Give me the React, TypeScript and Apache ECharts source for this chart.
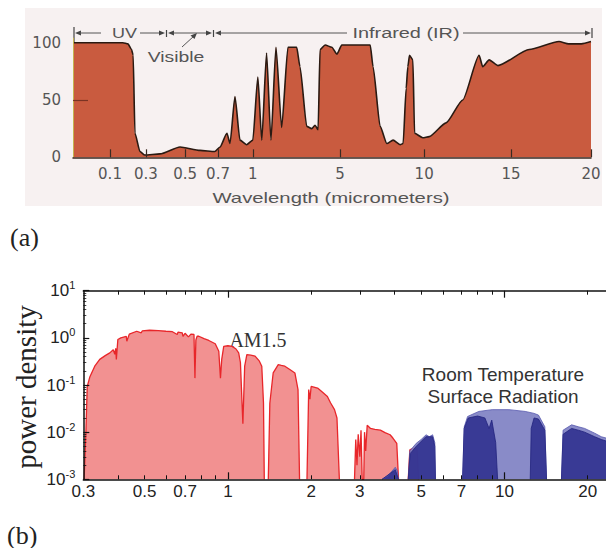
import React, { useEffect, useRef } from 'react';
import * as echarts from 'echarts';

// ---------- Panel (a): atmospheric transmission (%) vs wavelength (µm) ----------
const atmosphere: [number, number][] = [
  [0, 100], [0.172, 100], [0.2, 99], [0.22, 94], [0.229, 89], [0.239, 21], [0.267, 5], [0.294, 2],
  [0.372, 3], [0.474, 9], [0.591, 6], [0.68, 5], [0.717, 9], [0.777, 21], [0.803, 12], [0.846, 53],
  [0.889, 15], [0.946, 11], [1.0, 15], [1.23, 70], [1.41, 15], [1.63, 91], [1.83, 15], [2.06, 96],
  [2.32, 26], [2.61, 96], [3.01, 96], [3.16, 79], [3.47, 27], [3.7, 25], [3.85, 28], [3.99, 24],
  [4.08, 94], [4.31, 98], [4.62, 96], [4.85, 90], [5.1, 98], [6.79, 98], [6.96, 79], [7.38, 27],
  [7.78, 12], [8.15, 15], [8.57, 11], [8.75, 12], [8.93, 60], [9.03, 79], [9.13, 89], [9.33, 85],
  [9.43, 21], [9.92, 17], [10.29, 18], [11.26, 30], [12.22, 50], [13.16, 89], [13.37, 79],
  [13.74, 85], [14.24, 80], [16.13, 94], [18.0, 101], [18.6, 99], [19.4, 99], [20, 101],
];
// the drawing's irregular wavelength scale (knots of a piecewise-linear axis)
const aKnotWl = [0, 0.1, 0.3, 0.5, 0.7, 1, 5, 10, 15, 20];
const aKnotPos = [0, 1, 1.97, 3.03, 3.92, 4.86, 7.22, 9.49, 11.84, 14];
const aTickWl = [0.1, 0.3, 0.5, 0.7, 1, 5, 10, 15, 20];
const aTickLabels = ['0.1', '0.3', '0.5', '0.7', '1', '5', '10', '15', '20'];
const aYLabels = [0, 50, 100];

// ---------- Panel (b): power density (log) vs wavelength (µm, log) ----------
const am15: [number, number | null][] = [
  [0.302, 0.001], [0.3067, 0.011], [0.31, 0.093], [0.317, 0.15], [0.33, 0.25], [0.344, 0.35],
  [0.36, 0.42], [0.374, 0.48], [0.385, 0.56], [0.39, 0.45], [0.393, 0.6], [0.395, 0.35], [0.4, 0.92],
  [0.41, 1.0], [0.429, 1.08], [0.431, 0.85], [0.44, 1.2], [0.468, 1.38], [0.486, 1.28], [0.49, 1.4],
  [0.521, 1.45], [0.56, 1.42], [0.597, 1.38], [0.63, 1.35], [0.656, 1.18], [0.66, 1.32], [0.684, 1.28],
  [0.688, 1.08], [0.7, 1.25], [0.72, 1.05], [0.735, 1.2], [0.754, 1.18], [0.76, 0.14], [0.766, 0.9],
  [0.774, 1.08], [0.785, 1.08], [0.82, 0.96], [0.853, 0.88], [0.9, 0.75], [0.927, 0.52], [0.94, 0.14],
  [0.95, 0.35], [0.966, 0.66], [1.0, 0.68], [1.036, 0.66], [1.07, 0.58], [1.094, 0.48], [1.11, 0.3],
  [1.133, 0.015], [1.15, 0.25], [1.171, 0.44], [1.21, 0.43], [1.254, 0.41], [1.3, 0.32], [1.326, 0.25],
  [1.345, 0.042], [1.354, 0.001], [1.38, null], [1.4, 0.001], [1.418, 0.041], [1.458, 0.18],
  [1.521, 0.27], [1.56, 0.26], [1.607, 0.25], [1.68, 0.21], [1.747, 0.18], [1.793, 0.08],
  [1.816, 0.001], [1.87, null], [1.932, 0.001], [1.96, 0.08], [1.98, 0.05], [2.0, 0.093], [2.11, 0.086],
  [2.2, 0.07], [2.29, 0.057], [2.35, 0.042], [2.43, 0.03], [2.48, 0.02], [2.53, 0.001], [2.7, null],
  [2.87, 0.001], [2.9, 0.007], [2.93, 0.002], [2.96, 0.009], [3.0, 0.003], [3.03, 0.011], [3.06, 0.001],
  [3.1, 0.001], [3.12, 0.01], [3.15, 0.004], [3.19, 0.014], [3.28, 0.012], [3.4, 0.0115], [3.56, 0.011],
  [3.7, 0.0098], [3.86, 0.0088], [3.95, 0.0075], [4.08, 0.0058], [4.14, 0.001], [4.3, null],
  [4.49, 0.001], [4.55, 0.0042], [4.7, 0.0046], [4.83, 0.0045], [4.89, 0.001],
];
const roomTempEnvelope: [number, number | null][] = [
  [3.61, 0.001], [3.8, 0.0012], [4.03, 0.0018], [4.1, 0.0015], [4.14, 0.001], [4.3, null],
  [4.49, 0.001], [4.55, 0.004], [4.8, 0.0058], [5.0, 0.007], [5.21, 0.0088], [5.35, 0.008], [5.5, 0.0088],
  [5.6, 0.006], [5.63, 0.001], [6.3, null],
  [7.06, 0.001], [7.16, 0.013], [7.36, 0.0215], [8.08, 0.0275], [9.03, 0.03], [10.38, 0.03],
  [11.89, 0.0275], [12.8, 0.025], [13.28, 0.023], [14.0, 0.013], [14.2, 0.001], [15, null],
  [16.08, 0.001], [16.3, 0.011], [17.5, 0.0143], [18.5, 0.013], [19.5, 0.012], [21.2, 0.0095],
  [22.4, 0.008], [23.3, 0.0075],
];
const roomTempDense: [number, number | null][] = [
  [3.61, 0.001], [4.03, 0.0016], [4.14, 0.001], [4.3, null],
  [4.49, 0.001], [4.56, 0.0035], [4.8, 0.005], [5.2, 0.008], [5.5, 0.008], [5.6, 0.005], [5.63, 0.001],
  [6.3, null],
  [7.06, 0.001], [7.15, 0.012], [7.4, 0.02], [8.0, 0.022], [8.5, 0.02], [8.8, 0.012], [9.0, 0.018],
  [9.3, 0.006], [9.45, 0.001], [10, null],
  [12.4, 0.001], [12.5, 0.012], [12.8, 0.02], [13.28, 0.019], [14.0, 0.011], [14.2, 0.001], [15, null],
  [16.08, 0.001], [16.3, 0.009], [17.5, 0.012], [18.5, 0.011], [19.5, 0.01], [21.2, 0.008],
  [22.4, 0.007], [23.3, 0.0065],
];
const bXLabels = [0.3, 0.5, 0.7, 1, 2, 3, 5, 7, 10, 20];
const bXMinorTicks = [0.4, 0.5, 0.6, 0.7, 0.8, 0.9, 2, 3, 4, 5, 6, 7, 8, 9, 20];
const bXMajorTicks = [1, 10];
const bYDecades = [0.001, 0.01, 0.1, 1, 10];
const bYMinorTicks = [2, 3, 4, 5, 6, 7, 8, 9].flatMap((m) => [m * 0.001, m * 0.01, m * 0.1, m]);

function toPos(w: number): number {
  for (let i = 1; i < aKnotWl.length; i++) {
    if (w <= aKnotWl[i]) {
      const t = (w - aKnotWl[i - 1]) / (aKnotWl[i] - aKnotWl[i - 1]);
      return aKnotPos[i - 1] + t * (aKnotPos[i] - aKnotPos[i - 1]);
    }
  }
  return aKnotPos[aKnotPos.length - 1];
}
const aTickPos = aTickWl.map(toPos);
const gap = (d: [number, number | null][]) => d.map(([x, y]) => [x, y == null ? '-' : y]);

const SANS = '"Liberation Sans", Arial, sans-serif';
const SERIF = '"Liberation Serif", "Times New Roman", serif';

export default function App() {
  const ref = useRef<HTMLDivElement>(null);
  useEffect(() => {
    if (!ref.current) return;
    const chart = echarts.init(ref.current, undefined, { renderer: 'svg' });
    const gray = '#555';
    const arrow = (tipX: number, dir: 1 | -1, y = 33) => ({
      type: 'polygon',
      shape: { points: [[tipX, y], [tipX - dir * 6, y - 2.5], [tipX - dir * 6, y + 2.5]] },
      style: { fill: '#444' },
    });
    const hline = (x1: number, x2: number, y = 33) => ({
      type: 'line', shape: { x1, y1: y, x2, y2: y }, style: { stroke: gray, lineWidth: 1 },
    });
    const vbar = (x: number, y1: number, y2: number) => ({
      type: 'line', shape: { x1: x, y1, x2: x, y2 }, style: { stroke: '#444', lineWidth: 1.2 },
    });
    const stretched = (text: string, x: number, y: number, size: number, sx: number, color = gray) => ({
      type: 'text', x, y, scaleX: sx,
      style: { text, fill: color, fontSize: size, fontFamily: SANS, align: 'center', verticalAlign: 'middle' },
    });
    const logX = { type: 'log', min: 0.3, max: 23.3, gridIndex: 1, splitLine: { show: false } };
    const logY = { type: 'log', min: 0.001, max: 10, gridIndex: 1, splitLine: { show: false } };
    const black = { color: '#111', width: 1.5 };

    chart.setOption({
      animation: false,
      grid: [
        { left: 73, top: 38.1, width: 518, height: 119.2 },
        { left: 83.3, top: 290.7, width: 527.7, height: 188.6 },
      ],
      xAxis: [
        {
          gridIndex: 0, type: 'value', min: 0, max: 14, z: 5,
          axisLine: { show: true, onZero: false, lineStyle: { color: '#3a2a22', width: 1.5 } },
          axisTick: { show: true, inside: true, length: 8, customValues: aTickPos, lineStyle: { color: '#3a2a22', width: 1.2 } },
          axisLabel: {
            customValues: aTickPos, color: gray, fontFamily: '"DejaVu Sans"', fontSize: 15, margin: 9,
            formatter: (v: number) => {
              const i = aTickPos.findIndex((p) => Math.abs(p - v) < 1e-6);
              return i >= 0 ? aTickLabels[i] : '';
            },
          },
          splitLine: { show: false },
        },
        {
          ...logX, position: 'bottom', z: 5,
          axisLine: { show: true, onZero: false, lineStyle: black },
          axisTick: { show: true, inside: true, length: 4, customValues: bXMinorTicks, lineStyle: { color: '#111', width: 1 } },
          axisLabel: {
            customValues: bXLabels, color: '#222', fontFamily: SANS, fontSize: 17, margin: 4,
            formatter: (v: number) => String(Math.round(v * 10) / 10),
          },
        },
        {
          ...logX, position: 'bottom', z: 5,
          axisLine: { show: false },
          axisTick: { show: true, inside: true, length: 7, customValues: bXMajorTicks, lineStyle: { color: '#111', width: 1.2 } },
          axisLabel: { show: false },
        },
        {
          ...logX, position: 'top', z: 5,
          axisLine: { show: true, onZero: false, lineStyle: black },
          axisTick: { show: true, inside: true, length: 4, customValues: bXMinorTicks, lineStyle: { color: '#111', width: 1 } },
          axisLabel: { show: false },
        },
        {
          ...logX, position: 'top', z: 5,
          axisLine: { show: false },
          axisTick: { show: true, inside: true, length: 7, customValues: bXMajorTicks, lineStyle: { color: '#111', width: 1.2 } },
          axisLabel: { show: false },
        },
      ],
      yAxis: [
        {
          gridIndex: 0, type: 'value', min: 0, max: 104, z: 5,
          axisLine: { show: true, onZero: false, lineStyle: { color: '#c4b34e', width: 1 } },
          axisTick: { show: true, inside: true, length: 15, customValues: [50], lineStyle: { color: '#7a3323', width: 1.2 } },
          axisLabel: { customValues: aYLabels, color: gray, fontFamily: '"DejaVu Sans"', fontSize: 15, margin: 12 },
          splitLine: { show: false },
        },
        {
          ...logY, position: 'left', z: 5,
          axisLine: { show: true, onZero: false, lineStyle: black },
          axisTick: { show: true, inside: true, length: 6, customValues: bYDecades, lineStyle: { color: '#111', width: 1.2 } },
          axisLabel: {
            customValues: bYDecades, margin: 8,
            formatter: (v: number) => `{b|10}{s|${Math.round(Math.log10(v))}}`,
            rich: {
              b: { fontFamily: SANS, fontSize: 17, color: '#222', lineHeight: 22 },
              s: { fontFamily: SANS, fontSize: 11, color: '#222', lineHeight: 12, verticalAlign: 'top' },
            },
          },
        },
        {
          ...logY, position: 'left', z: 5,
          axisLine: { show: false },
          axisTick: { show: true, inside: true, length: 3, customValues: bYMinorTicks, lineStyle: { color: '#111', width: 0.8 } },
          axisLabel: { show: false },
        },
      ],
      series: [
        {
          name: 'TOTAL ATMOSPHERE', type: 'line', xAxisIndex: 0, yAxisIndex: 0,
          data: atmosphere.map(([w, t]) => [toPos(w), t]),
          symbol: 'none', smooth: 0.2, smoothMonotone: 'x',
          lineStyle: { color: '#2a1a12', width: 1.6 },
          areaStyle: { color: '#c95b3f', opacity: 1, origin: 'start' },
          z: 2,
        },
        {
          name: 'AM1.5', type: 'line', xAxisIndex: 1, yAxisIndex: 1,
          data: gap(am15), symbol: 'none', connectNulls: false,
          lineStyle: { color: '#e8262a', width: 1.3 },
          areaStyle: { color: '#f29191', opacity: 1, origin: 'start' },
          z: 2,
        },
        {
          name: 'Room Temperature Surface Radiation', type: 'line', xAxisIndex: 1, yAxisIndex: 1,
          data: gap(roomTempEnvelope), symbol: 'none', connectNulls: false,
          lineStyle: { color: '#5557ad', width: 0.8 },
          areaStyle: { color: '#7c7ec2', opacity: 0.9, origin: 'start' },
          z: 3,
        },
        {
          name: 'Room Temperature dense lines', type: 'line', xAxisIndex: 1, yAxisIndex: 1,
          data: gap(roomTempDense), symbol: 'none', connectNulls: false,
          lineStyle: { color: '#22237e', width: 0.8 },
          areaStyle: { color: '#2b2c8c', opacity: 0.85, origin: 'start' },
          z: 3,
        },
      ],
      graphic: [
        { type: 'rect', z: -10, shape: { x: 25, y: 8, width: 577, height: 198 }, style: { fill: '#f7f1f1' } },
        // spectral band annotations of panel (a)
        vbar(74, 27, 43),
        arrow(75, -1), hline(80, 101),
        stretched('UV', 124.5, 33, 15, 1.2),
        hline(140, 160), arrow(165, 1), vbar(166.5, 30, 37), arrow(168, -1),
        hline(173, 207), arrow(212, 1), vbar(213.5, 30, 37), arrow(215, -1),
        hline(220, 347),
        stretched('Infrared (IR)', 406, 33, 14, 1.42),
        hline(463, 586), arrow(591, 1), vbar(592, 28, 38),
        { type: 'line', shape: { x1: 182, y1: 47, x2: 194, y2: 36 }, style: { stroke: gray, lineWidth: 1 } },
        { type: 'polygon', shape: { points: [[197, 33], [190.5, 35.5], [194.5, 39]] }, style: { fill: '#444' } },
        stretched('Visible', 176, 57, 14, 1.38),
        stretched('TOTAL', 518, 108, 14, 1.3, '#7d3325'),
        stretched('ATMOSPHERE', 518, 122, 14, 1.3, '#7d3325'),
        stretched('Wavelength (micrometers)', 331, 198, 14, 1.45),
        { type: 'text', x: 10, y: 237, style: { text: '(a)', fill: '#222', fontSize: 26, fontFamily: SERIF, align: 'left', verticalAlign: 'middle' } },
        { type: 'text', x: 7, y: 535, style: { text: '(b)', fill: '#222', fontSize: 26, fontFamily: SERIF, align: 'left', verticalAlign: 'middle' } },
        { type: 'text', x: 26, y: 387, rotation: Math.PI / 2, style: { text: 'power density', fill: '#222', fontSize: 29, fontFamily: SERIF, align: 'center', verticalAlign: 'middle' } },
        { type: 'text', x: 258, y: 340, style: { text: 'AM1.5', fill: '#333', fontSize: 20, fontFamily: SERIF, align: 'center', verticalAlign: 'middle' } },
        { type: 'text', x: 503, y: 385, style: { text: 'Room Temperature\nSurface Radiation', fill: '#333', fontSize: 19, lineHeight: 22, fontFamily: SANS, align: 'center', verticalAlign: 'middle' } },
      ],
    });
    return () => chart.dispose();
  }, []);
  return <div ref={ref} style={{ position: 'absolute', left: 0, top: 0, width: 606, height: 548 }} />;
}
